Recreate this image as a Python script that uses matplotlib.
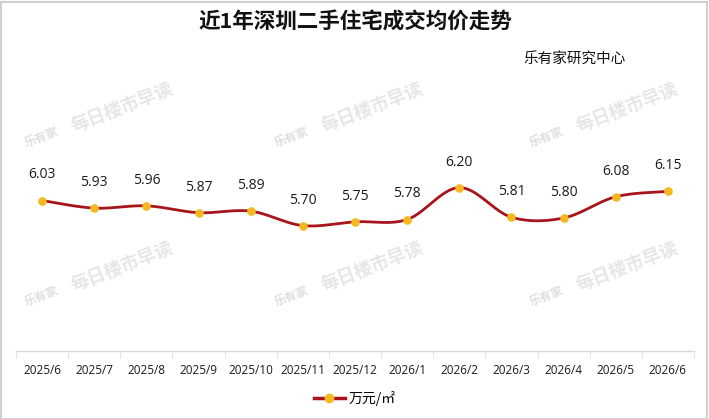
import numpy as np
import matplotlib
matplotlib.use("Agg")
import matplotlib.pyplot as plt
from matplotlib.lines import Line2D
from matplotlib.patches import Rectangle

categories = ["2025/6", "2025/7", "2025/8", "2025/9", "2025/10", "2025/11", "2025/12",
              "2026/1", "2026/2", "2026/3", "2026/4", "2026/5", "2026/6"]
values = [6.03, 5.93, 5.96, 5.87, 5.89, 5.70, 5.75, 5.78, 6.20, 5.81, 5.80, 6.08, 6.15]
title = "近1年深圳二手住宅成交均价走势"
subtitle = "乐有家研究中心"
legend_label = "万元/㎡"

FONT = ["Noto Sans CJK SC", "DejaVu Sans"]
plt.rcParams["font.family"] = FONT

W, H = 709, 419
fig = plt.figure(figsize=(W / 100, H / 100), dpi=100)
fig.patch.set_facecolor("white")

# outer border
fig.add_artist(Rectangle((0.5 / W, 0.5 / H), 1 - 3.0 / W, 1 - 3.0 / H, transform=fig.transFigure,
                         fill=False, edgecolor="#d0d0d0", linewidth=1.5))

# watermarks (fig pixel coords, y from top)
def px(x, y):
    return x / W, 1 - y / H

for cx in [0, 250, 505]:
    for cy in [0, 159]:
        fig.text(*px(122 + cx, 108 + cy), "每日楼市早读", rotation=21, ha="center", va="center",
                 fontsize=13, fontweight="bold", color="#e6e6e6", zorder=0)
        fig.text(*px(42 + cx, 137 + cy), "乐有家", rotation=21, ha="center", va="center",
                 fontsize=8.5, fontweight="bold", color="#dedede", zorder=0)

ax_left, ax_right, ax_bottom = 16, 694, 351
ymin, ymax = 4.05, 7.05
ppu = 76.0
ax_top = ax_bottom - (ymax - ymin) * ppu
ax = fig.add_axes([ax_left / W, 1 - ax_bottom / H, (ax_right - ax_left) / W, (ax_bottom - ax_top) / H])
ax.set_facecolor("none")
ax.set_xlim(-0.5, len(categories) - 0.5)
ax.set_ylim(ymin, ymax)

# smooth curve (Catmull-Rom through the data points)
x = np.arange(len(values), dtype=float)
y = np.array(values, dtype=float)
xs, ys = [], []
n = len(x)
for i in range(n - 1):
    p0 = (x[max(i - 1, 0)], y[max(i - 1, 0)])
    p1 = (x[i], y[i])
    p2 = (x[i + 1], y[i + 1])
    p3 = (x[min(i + 2, n - 1)], y[min(i + 2, n - 1)])
    c1 = (p1[0] + (p2[0] - p0[0]) / 6, p1[1] + (p2[1] - p0[1]) / 6)
    c2 = (p2[0] - (p3[0] - p1[0]) / 6, p2[1] - (p3[1] - p1[1]) / 6)
    t = np.linspace(0, 1, 40)
    bx = (1 - t) ** 3 * p1[0] + 3 * (1 - t) ** 2 * t * c1[0] + 3 * (1 - t) * t ** 2 * c2[0] + t ** 3 * p2[0]
    by = (1 - t) ** 3 * p1[1] + 3 * (1 - t) ** 2 * t * c1[1] + 3 * (1 - t) * t ** 2 * c2[1] + t ** 3 * p2[1]
    xs.extend(bx)
    ys.extend(by)

line_color = "#A8141B"
marker_color = "#F5B820"
ax.plot(xs, ys, color=line_color, linewidth=2.0, solid_capstyle="round", zorder=3)
ax.plot(x, y, linestyle="none", marker="o", markersize=5.2, markerfacecolor=marker_color,
        markeredgecolor=marker_color, zorder=4)

for xi, yi in zip(x, y):
    ax.annotate(f"{yi:.2f}", (xi, yi), xytext=(0, 13), textcoords="offset points",
                ha="center", va="bottom", fontsize=10, color="#1a1a1a", family=["Open Sans", "DejaVu Sans"])

for s in ["top", "right", "left"]:
    ax.spines[s].set_visible(False)
ax.spines["bottom"].set_color("#d9d9d9")
ax.spines["bottom"].set_linewidth(1.0)
ax.set_yticks([])
ax.set_xticks(x)
ax.set_xticklabels(categories, fontsize=8.5, color="#1a1a1a", family=["Open Sans", "DejaVu Sans"])
ax.tick_params(axis="x", which="major", length=0, pad=9)
ax.set_xticks(np.arange(-0.5, len(categories)), minor=True)
ax.tick_params(axis="x", which="minor", length=5, color="#e3e3e3", width=0.8)

# title & subtitle
fig.text(*px(355, 22), title, ha="center", va="center", fontsize=15.5, fontweight="bold", color="#111111")
fig.text(*px(575, 60), subtitle, ha="center", va="center", fontsize=10.5, color="#111111")

# legend
handle = Line2D([0], [0], color=line_color, linewidth=2.5, marker="o", markersize=6,
                markerfacecolor=marker_color, markeredgecolor=marker_color)
leg = fig.legend([handle], [legend_label], loc="center", bbox_to_anchor=px(355, 398),
                 frameon=False, fontsize=10, handlelength=2.2, handletextpad=0.3,
                 prop={"family": FONT, "size": 10})

fig.savefig("out.png", dpi=100, facecolor="white")
